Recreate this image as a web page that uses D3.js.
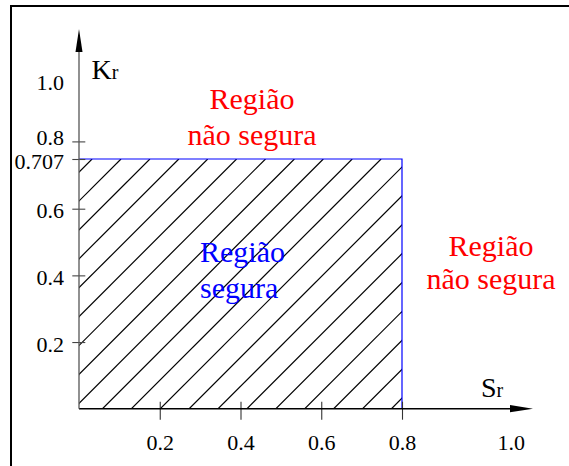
<!DOCTYPE html>
<html>
<head>
<meta charset="utf-8">
<script src="https://cdn.jsdelivr.net/npm/d3@7"></script>
<style>
  html, body { margin: 0; padding: 0; background: #fff; }
  svg { display: block; }
</style>
</head>
<body>
<svg id="chart" width="569" height="466"></svg>
<script>
// Safe-operation limits of the failure assessment diagram
const srLimit = 0.8;    // load ratio limit (Sr)
const krLimit = 0.707;  // fracture ratio limit (Kr)

// Axis tick values (1.0 carries a label only)
const xTickValues = [0.2, 0.4, 0.6, 0.8, 1.0];
const yTickValues = [0.2, 0.4, 0.6, 0.707, 0.8, 1.0];
const labelOnlyTicks = [1.0];

// Region captions
const unsafeLines = ["Região", "não segura"];
const safeLines = ["Região", "segura"];

const SERIF = "'Liberation Serif', 'Times New Roman', Times, 'DejaVu Serif', serif";
const W = 569, H = 466;
const svg = d3.select("#chart");

// Schematic axes: linear up to 0.8, with 0.707 and 1.0 set apart for legibility
const x = d3.scaleLinear()
  .domain([0, 0.8, 1.0])
  .range([79, 402, 510.7]);
const y = d3.scaleLinear()
  .domain([0, 0.6, 0.707, 0.8, 1.0])
  .range([408.7, 208.7, 159, 141.4, 80.3]);

// Frame
svg.append("line").attr("x1", 11).attr("x2", 11).attr("y1", 5).attr("y2", H)
  .attr("stroke", "#000").attr("stroke-width", 2);
svg.append("line").attr("x1", 10).attr("x2", W).attr("y1", 6).attr("y2", 6)
  .attr("stroke", "#000").attr("stroke-width", 2);

// Hatched safe region
const rx0 = x(0), rx1 = x(srLimit), ry0 = y(0), ry1 = y(krLimit);
svg.append("clipPath").attr("id", "safeClip")
  .append("rect")
  .attr("x", rx0).attr("y", ry1)
  .attr("width", rx1 - rx0).attr("height", ry0 - ry1);

const hatchGap = 28.9;
const cStart = rx0 + ry0 - 5.4;
const cMin = rx0 + ry1, cMax = rx1 + ry0;
const kFrom = Math.floor((cMin - cStart) / hatchGap) - 1;
const kTo = Math.ceil((cMax - cStart) / hatchGap) + 1;
const hatch = d3.range(kFrom, kTo + 1).map(k => cStart + k * hatchGap);

svg.append("g").attr("clip-path", "url(#safeClip)")
  .selectAll("line").data(hatch).join("line")
  .attr("x1", c => c - ry0).attr("y1", ry0)
  .attr("x2", c => c - ry1).attr("y2", ry1)
  .attr("stroke", "#000").attr("stroke-width", 1.2);

// Blue boundary of the safe region
svg.append("path")
  .attr("d", `M${rx0},${ry1}H${rx1}V${ry0}`)
  .attr("fill", "none").attr("stroke", "#0000ff").attr("stroke-width", 1.2);

// X axis
const xAxis = svg.append("g")
  .attr("transform", `translate(0,${y(0)})`)
  .call(d3.axisBottom(x).tickValues(xTickValues).tickSizeOuter(0).tickFormat(d3.format(".1f")))
  .attr("font-family", SERIF).attr("font-size", 22);
xAxis.select(".domain").remove();
xAxis.selectAll(".tick line")
  .attr("y1", -7).attr("y2", 11)
  .attr("stroke", "#333").attr("stroke-width", 1.1)
  .filter(d => labelOnlyTicks.includes(d)).remove();
xAxis.selectAll(".tick text")
  .attr("y", 41).attr("dy", null)
  .attr("fill", "#000");

svg.append("line")
  .attr("x1", x(0)).attr("x2", 512).attr("y1", y(0)).attr("y2", y(0))
  .attr("stroke", "#000").attr("stroke-width", 1.6);
svg.append("path")
  .attr("d", `M533,${y(0)}L510,${y(0) - 3.6}L510,${y(0) + 3.6}Z`)
  .attr("fill", "#000");

// Y axis
const labelShift = { 0.8: -6 };
const yAxis = svg.append("g")
  .attr("transform", `translate(${x(0)},0)`)
  .call(d3.axisLeft(y).tickValues(yTickValues).tickSizeOuter(0)
    .tickFormat(d => d === krLimit ? "0.707" : d3.format(".1f")(d)))
  .attr("font-family", SERIF).attr("font-size", 22);
yAxis.select(".domain").remove();
yAxis.selectAll(".tick line")
  .attr("x1", -6.7).attr("x2", 6.3)
  .attr("stroke", "#444").attr("stroke-width", 1.1)
  .filter(d => labelOnlyTicks.includes(d)).remove();
yAxis.selectAll(".tick text")
  .attr("x", -15).attr("dy", null)
  .attr("y", d => 9 + (labelShift[d] || 0))
  .attr("fill", "#000");

svg.append("line")
  .attr("x1", x(0)).attr("x2", x(0)).attr("y1", y(0)).attr("y2", 45)
  .attr("stroke", "#555").attr("stroke-width", 1.3);
svg.append("path")
  .attr("d", `M${x(0)},29L${x(0) - 3.5},52L${x(0) + 3.5},52Z`)
  .attr("fill", "#000");

// Axis titles
function axisTitle(px, py, main) {
  const t = svg.append("text").attr("x", px).attr("y", py)
    .attr("fill", "#000").attr("font-family", SERIF);
  t.append("tspan").text(main).attr("font-size", 28);
  t.append("tspan").text("r").attr("font-size", 20);
}
axisTitle(91.5, 79.3, "K");
axisTitle(481, 397.3, "S");

// Region captions
function caption(lines, px, baselines, color, anchor) {
  svg.append("g").selectAll("text").data(lines).join("text")
    .attr("x", px).attr("y", (d, i) => baselines[i])
    .attr("text-anchor", anchor)
    .attr("fill", color)
    .attr("font-family", SERIF)
    .attr("font-size", 30)
    .text(d => d);
}
caption(unsafeLines, 252, [109.3, 145], "#ff0000", "middle");
caption(unsafeLines, 491, [256, 289], "#ff0000", "middle");
caption(safeLines, 200, [262.3, 298.3], "#0000ff", "start");
</script>
</body>
</html>
